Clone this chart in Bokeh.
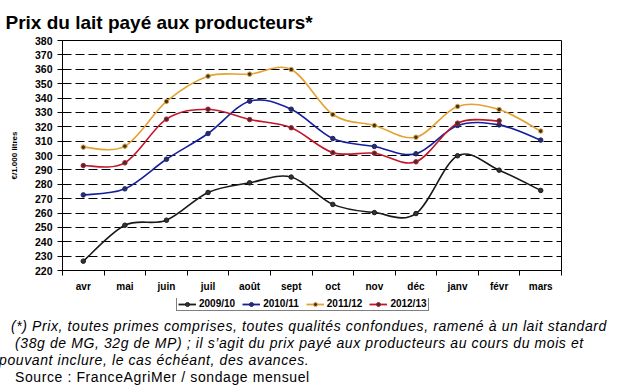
from bokeh.plotting import figure
from bokeh.models import (Range1d, FixedTicker, Legend, LegendItem, ColumnDataSource, Div)
from bokeh.layouts import column
from bokeh.embed import file_html
from bokeh.resources import INLINE

months = ["avr", "mai", "juin", "juil", "août", "sept", "oct", "nov", "déc", "janv", "févr", "mars"]
y_ticks = list(range(220, 390, 10))

s2009 = [226.5, 251.5, 255, 274.3, 281, 285, 266, 260.3, 259.6, 299.8, 289.8, 275.7]
s2010 = [272.6, 276.8, 297.4, 315.3, 337.8, 332.2, 311.8, 306.3, 301.2, 320.9, 321.3, 310.7]
s2011 = [305.8, 306.5, 337.6, 355.2, 356.6, 359.8, 328.5, 320.9, 312.7, 334.1, 332, 317]
s2012 = [293, 294.9, 325.3, 332.2, 325, 319.3, 302, 301.6, 295.6, 322.5, 324.1]

series = [("2009/10", s2009, "#1a1a1a"),
          ("2010/11", s2010, "#14209c"),
          ("2011/12", s2011, "#e5a232"),
          ("2012/13", s2012, "#c0182a")]

notes = [
    ("(*)  Prix, toutes  primes comprises, toutes qualités confondues, ramené à un lait standard", 11, "italic"),
    ("(38g de MG, 32g de MP) ; il s’agit du prix payé aux producteurs au cours du mois et", 15, "italic"),
    ("pouvant inclure, le cas échéant, des avances.", -1, "italic"),
    ("Source : FranceAgriMer / sondage mensuel", 15, "normal"),
]

FONT = "Liberation Sans"
W = 625

p = figure(width=W, height=298, output_backend="svg", toolbar_location=None,
           x_range=Range1d(0, 12), y_range=Range1d(220, 380),
           min_border_left=62, min_border_right=64, min_border_top=40, min_border_bottom=28,
           title="Prix du lait payé aux producteurs*")
p.outline_line_color = "black"
p.outline_line_width = 1
p.background_fill_color = "white"
p.border_fill_color = "white"

p.title.text_font = FONT
p.title.text_font_style = "bold"
p.title.text_font_size = "19px"
p.title.text_color = "black"
p.title.align = "left"
p.title.offset = -57
p.title.standoff = 15

xa = p.xaxis[0]
xa.ticker = FixedTicker(ticks=[i + 0.5 for i in range(12)], minor_ticks=list(range(13)))
xa.major_label_overrides = {i + 0.5: m for i, m in enumerate(months)}
xa.major_tick_out = 0
xa.major_tick_in = 0
xa.minor_tick_out = 5
xa.minor_tick_in = 0
xa.minor_tick_line_color = "black"
xa.axis_line_color = "black"
xa.major_label_standoff = 5
xa.major_label_text_font = FONT
xa.major_label_text_font_style = "bold"
xa.major_label_text_font_size = "10px"
xa.major_label_text_color = "black"

ya = p.yaxis[0]
ya.ticker = FixedTicker(ticks=y_ticks, minor_ticks=[])
ya.major_tick_out = 5
ya.major_tick_in = 0
ya.major_tick_line_color = "black"
ya.axis_line_color = "black"
ya.major_label_standoff = 5
ya.major_label_text_font = FONT
ya.major_label_text_font_style = "bold"
ya.major_label_text_font_size = "10.5px"
ya.major_label_text_color = "black"
ya.axis_label = "€/1.000 litres"
ya.axis_label_text_font = FONT
ya.axis_label_text_font_style = "bold"
ya.axis_label_text_font_size = "8px"
ya.axis_label_standoff = 13
ya.axis_label_text_color = "black"

p.xgrid.visible = False
p.ygrid.ticker = FixedTicker(ticks=y_ticks)
p.ygrid.grid_line_color = "black"
p.ygrid.grid_line_dash = "9 4"
p.ygrid.grid_line_width = 1


def smooth(vals):
    n = len(vals)
    xs = [i + 0.5 for i in range(n)]
    d = dict(x0=[], y0=[], x1=[], y1=[], cx0=[], cy0=[], cx1=[], cy1=[])
    for i in range(n - 1):
        p0 = (xs[max(i - 1, 0)], vals[max(i - 1, 0)])
        p1 = (xs[i], vals[i])
        p2 = (xs[i + 1], vals[i + 1])
        p3 = (xs[min(i + 2, n - 1)], vals[min(i + 2, n - 1)])
        d["x0"].append(p1[0]); d["y0"].append(p1[1])
        d["x1"].append(p2[0]); d["y1"].append(p2[1])
        d["cx0"].append(p1[0] + (p2[0] - p0[0]) / 6)
        d["cy0"].append(p1[1] + (p2[1] - p0[1]) / 6)
        d["cx1"].append(p2[0] - (p3[0] - p1[0]) / 6)
        d["cy1"].append(p2[1] - (p3[1] - p1[1]) / 6)
    return ColumnDataSource(d)


# legend strip: its own small figure (frame aligned with the chart's frame);
# the series are drawn there too but fall outside its range, so only the legend shows
lf = figure(width=W, height=14, output_backend="svg", toolbar_location=None,
            x_range=Range1d(0, 12), y_range=Range1d(0, 1),
            x_axis_location=None, y_axis_location=None, min_border=0)
lf.outline_line_color = None
lf.grid.visible = False
lf.border_fill_color = "white"
lf.background_fill_color = "white"

items = []
for name, vals, col in series:
    xs = [i + 0.5 for i in range(len(vals))]
    src = smooth(vals)
    p.bezier(x0="x0", y0="y0", x1="x1", y1="y1", cx0="cx0", cy0="cy0",
             cx1="cx1", cy1="cy1", source=src, line_color=col, line_width=1.6)
    p.scatter(xs, vals, size=4.5, marker="circle",
              fill_color="#333333", line_color=col, line_width=1)
    l1 = lf.line(x=xs, y=vals, line_color=col, line_width=1.8)
    l2 = lf.scatter(x=xs, y=vals, size=4.5, marker="circle", fill_color="#333333",
                    line_color=col, line_width=1)
    items.append(LegendItem(label=name, renderers=[l1, l2]))

legend = Legend(items=items, orientation="horizontal", location=(114, 1),
                label_text_font=FONT, label_text_font_style="bold",
                label_text_font_size="10px", label_text_color="black",
                glyph_width=18, glyph_height=10, label_height=10, label_standoff=3,
                spacing=7, padding=1, margin=0,
                border_line_color="black", border_line_width=1,
                background_fill_color="white", background_fill_alpha=1)
lf.add_layout(legend, "center")

lines_html = "".join(
    f'<div style="margin-left:{xo}px;font-style:{st};height:17px;line-height:17px;white-space:nowrap">{txt}</div>'
    for txt, xo, st in notes)
div = Div(text=f'<div style="font-family:\'{FONT}\';font-size:14px;letter-spacing:0.6px;color:black;padding-top:6px">{lines_html}</div>',
          width=W, height=74, margin=0, styles={"overflow": "hidden"})

layout = column(p, lf, div, spacing=0)
open("out.html", "w").write(file_html(layout, INLINE))
